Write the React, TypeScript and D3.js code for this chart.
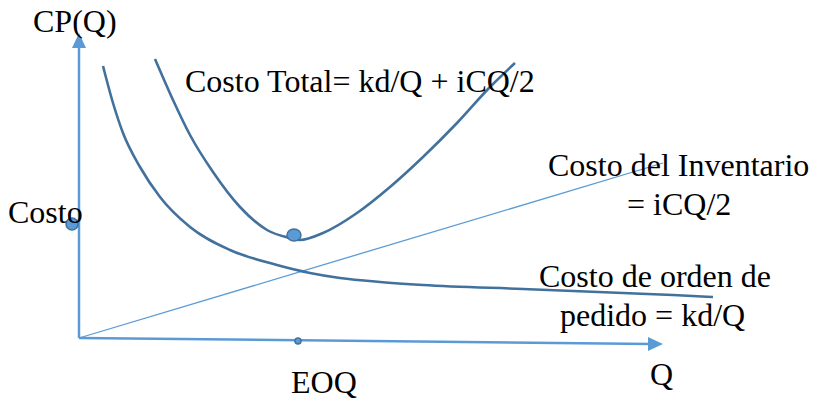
import React from "react";
import * as d3 from "d3";

// Data (Q units, cost units)
const orderQ = [24, 34, 44, 61, 81, 111, 151, 198, 231, 261, 301, 344, 444, 544, 594, 634];
const orderC = [272, 235, 205, 171, 141, 111, 88, 73, 65, 60, 56, 53, 49, 45, 43, 41];

const totalQ = [76, 94, 111, 134, 161, 188, 211, 221, 244, 278, 311, 344, 378, 411, 436];
const totalC = [279, 238, 203, 166, 131, 108, 100, 98, 105, 125, 151, 181, 215, 251, 275];

const invQ = [0, 584];
const invC = [0, 175];

const xAxisQ = [0, 584];
const xAxisC = [0, -6];
const yAxisTop = 305;

const dotQ = [-7, 215, 219];
const dotC = [114, 103, -3];
const dotRx = [6, 7, 3];
const dotRy = [6, 6, 3];

const labels = [
  "CP(Q)",
  "Costo Total= kd/Q + iCQ/2",
  "Costo del Inventario",
  "= iCQ/2",
  "Costo de orden de",
  "pedido = kd/Q",
  "Costo",
  "EOQ",
  "Q",
];
const labelX = [33, 185, 548, 627, 539, 560, 8, 291, 650];
const labelY = [32, 92, 176, 215, 287, 326, 223, 393, 385];

const W = 814;
const H = 405;

export default function App() {
  const x = d3.scaleLinear().domain([0, 584]).range([79, 663]);
  const y = d3.scaleLinear().domain([0, 300]).range([338, 38]);

  const line = d3
    .line<[number, number]>()
    .x((d) => x(d[0]))
    .y((d) => y(d[1]))
    .curve(d3.curveMonotoneX);

  const orderPts = orderQ.map((q, i) => [q, orderC[i]] as [number, number]);
  const totalPts = totalQ.map((q, i) => [q, totalC[i]] as [number, number]);
  const invPts = invQ.map((q, i) => [q, invC[i]] as [number, number]);

  const axisColor = "#5B9BD5";
  const curveColor = "#41719C";

  const x0 = x(xAxisQ[0]);
  const y0 = y(xAxisC[0]);
  const xEnd = x(xAxisQ[1]);
  const yEndX = y(xAxisC[1]);
  const yTop = y(yAxisTop);

  return (
    <svg
      width={W}
      height={H}
      style={{ position: "absolute", left: 0, top: 0, background: "#fff" }}
    >
      {/* y axis */}
      <line x1={x0} y1={y0} x2={x0} y2={yTop + 12} stroke={axisColor} strokeWidth={2.5} />
      <path d={`M${x0},${yTop} L${x0 - 7},${yTop + 15} L${x0 + 7},${yTop + 15} Z`} fill={axisColor} />
      {/* x axis */}
      <line x1={x0} y1={y0} x2={xEnd - 12} y2={yEndX} stroke={axisColor} strokeWidth={2.5} />
      <path d={`M${xEnd},${yEndX} L${xEnd - 15},${yEndX - 7} L${xEnd - 15},${yEndX + 7} Z`} fill={axisColor} />

      {/* inventory line */}
      <path d={line(invPts) || ""} fill="none" stroke={axisColor} strokeWidth={1.3} />
      {/* order cost */}
      <path d={line(orderPts) || ""} fill="none" stroke={curveColor} strokeWidth={2.6} />
      {/* total cost */}
      <path d={line(totalPts) || ""} fill="none" stroke={curveColor} strokeWidth={2.6} />

      {dotQ.map((q, i) => (
        <ellipse
          key={i}
          cx={x(q)}
          cy={y(dotC[i])}
          rx={dotRx[i]}
          ry={dotRy[i]}
          fill={axisColor}
          stroke={curveColor}
          strokeWidth={1.5}
        />
      ))}

      {labels.map((t, i) => (
        <text
          key={i}
          x={labelX[i]}
          y={labelY[i]}
          fontFamily="'Liberation Serif', 'Times New Roman', serif"
          fontSize={32}
          fill="#000"
        >
          {t}
        </text>
      ))}
    </svg>
  );
}
